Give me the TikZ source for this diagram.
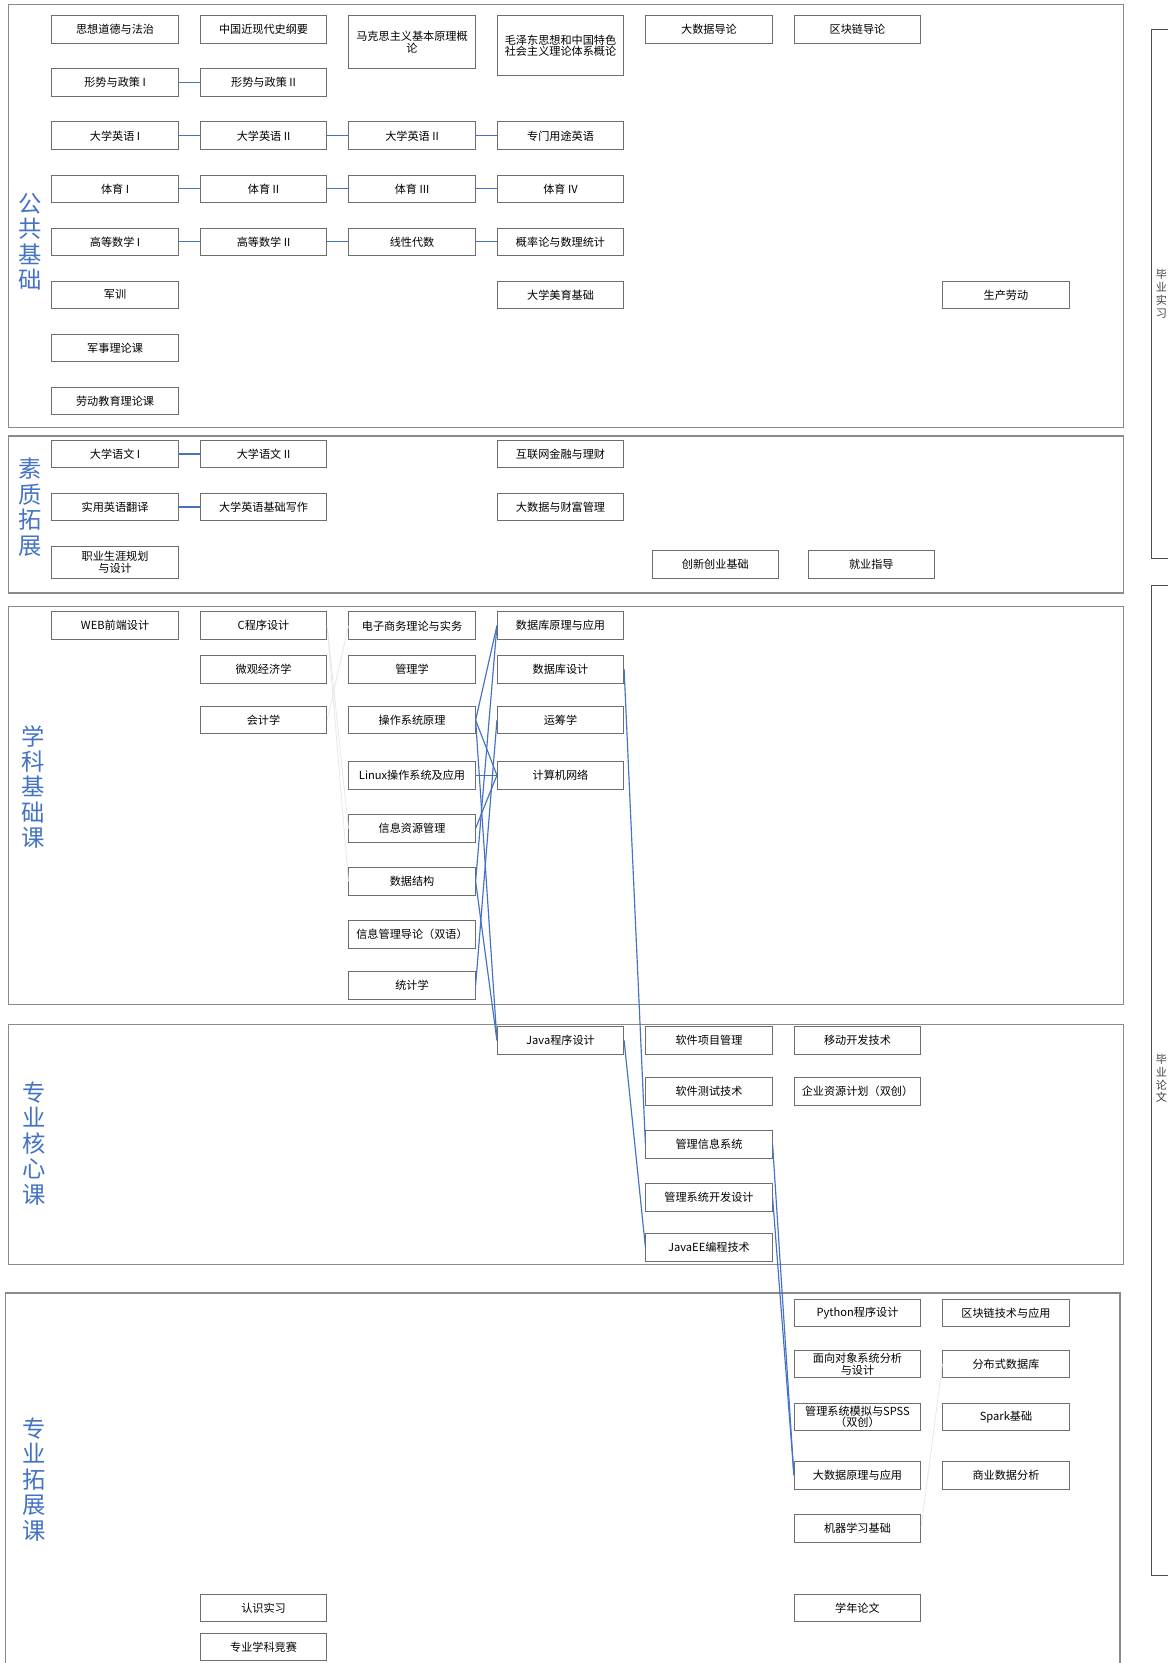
\documentclass[tikz,border=0pt]{standalone}
\usepackage{fontspec}
\usepackage{xcolor}
\usepackage{tikz}
\usetikzlibrary{positioning, calc}
\newfontfamily\cjk{Noto Sans CJK SC}
\definecolor{linkblue}{HTML}{4472C4}
\definecolor{boxgray}{HTML}{6E6E6E}
\definecolor{framegray}{HTML}{8A8A8A}
\tikzset{plan/.style={
    course/.style={rectangle, draw=boxgray, line width=0.9pt, minimum width=119pt, minimum height=26pt, inner sep=1pt, align=center, fill=white, font=\cjk\fontsize{10.5}{11}\selectfont},
    frame/.style={draw=framegray, line width=1.2pt},
    seclabel/.style={align=center, inner sep=0pt, text=linkblue, font=\cjk\fontsize{22}{24}\selectfont},
    sidelabel/.style={align=center, inner sep=0pt, text=black!75, font=\cjk\fontsize{10.5}{12}\selectfont},
    link/.style={draw=linkblue, line width=1.1pt},
    faint/.style={draw=gray!18, line width=0.8pt},
}}

\begin{document}
\begin{tikzpicture}[plan, x=1pt, y=-1pt]
    \useasboundingbox (0,0) rectangle (1101,1568);

    % section frames
    \draw[frame] (8,4) rectangle (1059,403);
    \draw[frame] (8,411) rectangle (1059,559);
    \draw[frame] (8,572) rectangle (1059,947);
    \draw[frame] (8,966) rectangle (1059,1192);
    \draw[frame] (5,1575) |- (1056,1219) -- (1056,1575);
    \draw[draw=black!70, line width=0.9pt] (1110,28) -| (1086,527) -- (1110,527);
    \draw[draw=black!70, line width=0.9pt] (1110,552) -| (1086,1485) -- (1110,1485);

    \node[seclabel] (lbgg) at (28,228) {公\\共\\基\\础};
    \node[seclabel] (lbsz) at (28,478) {素\\质\\拓\\展};
    \node[seclabel] (lbxk) at (31,742) {学\\科\\基\\础\\课};
    \node[seclabel] (lbhx) at (32,1078) {专\\业\\核\\心\\课};
    \node[seclabel] (lbtz) at (32,1395) {专\\业\\拓\\展\\课};
    \node[sidelabel] (lbsx) at (1095,277) {毕\\业\\实\\习};
    \node[sidelabel] (lblw) at (1095,1017) {毕\\业\\论\\文};

    % 公共基础
    \node[course] (sxdd) at (108.5,28) {思想道德与法治};
    \node[course] (zgjxd) at (248.5,28) {中国近现代史纲要};
    \node[course, minimum height=50pt] (mkszy) at (388.5,40) {马克思主义基本原理概\\论};
    \node[course, minimum height=56pt] (mzd) at (528.5,43) {毛泽东思想和中国特色\\社会主义理论体系概论};
    \node[course] (dsjdl) at (668.5,28) {大数据导论};
    \node[course] (qkldl) at (808.5,28) {区块链导论};
    \node[course] (xszc1) at (108.5,78) {形势与政策 I};
    \node[course] (xszc2) at (248.5,78) {形势与政策 II};
    \node[course] (dxyy1) at (108.5,128) {大学英语 I};
    \node[course] (dxyy2) at (248.5,128) {大学英语 II};
    \node[course] (dxyy3) at (388.5,128) {大学英语 II};
    \node[course] (zmyy) at (528.5,128) {专门用途英语};
    \node[course] (ty1) at (108.5,178) {体育 I};
    \node[course] (ty2) at (248.5,178) {体育 II};
    \node[course] (ty3) at (388.5,178) {体育 III};
    \node[course] (ty4) at (528.5,178) {体育 IV};
    \node[course] (gs1) at (108.5,228) {高等数学 I};
    \node[course] (gs2) at (248.5,228) {高等数学 II};
    \node[course] (xxds) at (388.5,228) {线性代数};
    \node[course] (gll) at (528.5,228) {概率论与数理统计};
    \node[course] (jx) at (108.5,278) {军训};
    \node[course] (dxmy) at (528.5,278) {大学美育基础};
    \node[course] (scld) at (948.5,278) {生产劳动};
    \node[course] (jsll) at (108.5,328) {军事理论课};
    \node[course] (ldjy) at (108.5,378) {劳动教育理论课};

    % 素质拓展
    \node[course] (dxyw1) at (108.5,428) {大学语文 I};
    \node[course] (dxyw2) at (248.5,428) {大学语文 II};
    \node[course] (hlwjr) at (528.5,428) {互联网金融与理财};
    \node[course] (syfy) at (108.5,478) {实用英语翻译};
    \node[course] (jcxz) at (248.5,478) {大学英语基础写作};
    \node[course] (cfgl) at (528.5,478) {大数据与财富管理};
    \node[course, minimum height=30pt] (zysy) at (108.5,530) {职业生涯规划\\与设计};
    \node[course] (cxcy) at (674.5,532) {创新创业基础};
    \node[course] (jyzd) at (821.5,532) {就业指导};

    % 学科基础课
    \node[course] (web) at (108.5,590) {WEB前端设计};
    \node[course] (cprog) at (248.5,590) {C程序设计};
    \node[course] (dzsw) at (388.5,590) {电子商务理论与实务};
    \node[course] (sjkyl) at (528.5,590) {数据库原理与应用};
    \node[course] (wgjj) at (248.5,631) {微观经济学};
    \node[course] (glx) at (388.5,631) {管理学};
    \node[course] (sjksj) at (528.5,631) {数据库设计};
    \node[course] (kjx) at (248.5,679) {会计学};
    \node[course] (czxt) at (388.5,679) {操作系统原理};
    \node[course] (ycx) at (528.5,679) {运筹学};
    \node[course] (linux) at (388.5,731) {Linux操作系统及应用};
    \node[course] (jsjwl) at (528.5,731) {计算机网络};
    \node[course] (xxzy) at (388.5,781) {信息资源管理};
    \node[course] (sjjg) at (388.5,831) {数据结构};
    \node[course] (xxgl) at (388.5,881) {信息管理导论（双语）};
    \node[course] (tjx) at (388.5,929) {统计学};

    % 专业核心课
    \node[course] (java) at (528.5,981) {Java程序设计};
    \node[course] (rjxm) at (668.5,981) {软件项目管理};
    \node[course] (ydkf) at (808.5,981) {移动开发技术};
    \node[course] (rjcs) at (668.5,1029) {软件测试技术};
    \node[course] (erp) at (808.5,1029) {企业资源计划（双创）};
    \node[course] (glxx) at (668.5,1079) {管理信息系统};
    \node[course] (glkf) at (668.5,1129) {管理系统开发设计};
    \node[course] (javaee) at (668.5,1176) {JavaEE编程技术};

    % 专业拓展课
    \node[course] (python) at (808.5,1238) {Python程序设计};
    \node[course] (qkljs) at (948.5,1238) {区块链技术与应用};
    \node[course] (mxdx) at (808.5,1286) {面向对象系统分析\\与设计};
    \node[course] (fbssjk) at (948.5,1286) {分布式数据库};
    \node[course] (spss) at (808.5,1336) {管理系统模拟与SPSS\\（双创）};
    \node[course] (spark) at (948.5,1336) {Spark基础};
    \node[course] (dsjyl) at (808.5,1391) {大数据原理与应用};
    \node[course] (syfx) at (948.5,1391) {商业数据分析};
    \node[course] (jqxx) at (808.5,1441) {机器学习基础};
    \node[course] (rssx) at (248.5,1516) {认识实习};
    \node[course] (xnlw) at (808.5,1516) {学年论文};
    \node[course] (xkjs) at (248.5,1553) {专业学科竞赛};

    % connectors
    \draw[link] (xszc1) -- (xszc2);
    \draw[link] (dxyy1) -- (dxyy2) (dxyy2) -- (dxyy3) (dxyy3) -- (zmyy);
    \draw[link] (ty1) -- (ty2) (ty2) -- (ty3) (ty3) -- (ty4);
    \draw[link] (gs1) -- (gs2) (gs2) -- (xxds) (xxds) -- (gll);
    \draw[link] (dxyw1) -- (dxyw2);
    \draw[link] (syfy) -- (jcxz);

    \draw[faint] (cprog.east) -- (xxzy.west);
    \draw[faint] (cprog.east) -- (sjjg.west);
    \draw[faint] (kjx.east) -- (dzsw.west);
    \draw[faint] (jqxx.east) -- (fbssjk.west);

    \draw[link] (czxt.east) -- (sjkyl.west);
    \draw[link] (czxt.east) -- (jsjwl.west);
    \draw[link] (czxt.east) -- (java.west);
    \draw[link] (linux.east) -- (jsjwl.west);
    \draw[link] (xxzy.east) -- (jsjwl.west);
    \draw[link] (sjjg.east) -- (sjkyl.west);
    \draw[link] (sjjg.east) -- (java.west);
    \draw[link] (tjx.east) -- (ycx.west);
    \draw[link] (sjksj.east) -- (glxx.west);
    \draw[link] (java.east) -- (javaee.west);
    \draw[link] (glxx.east) -- (dsjyl.west);
    \draw[link] (glkf.east) -- (dsjyl.west);
\end{tikzpicture}
\end{document}
